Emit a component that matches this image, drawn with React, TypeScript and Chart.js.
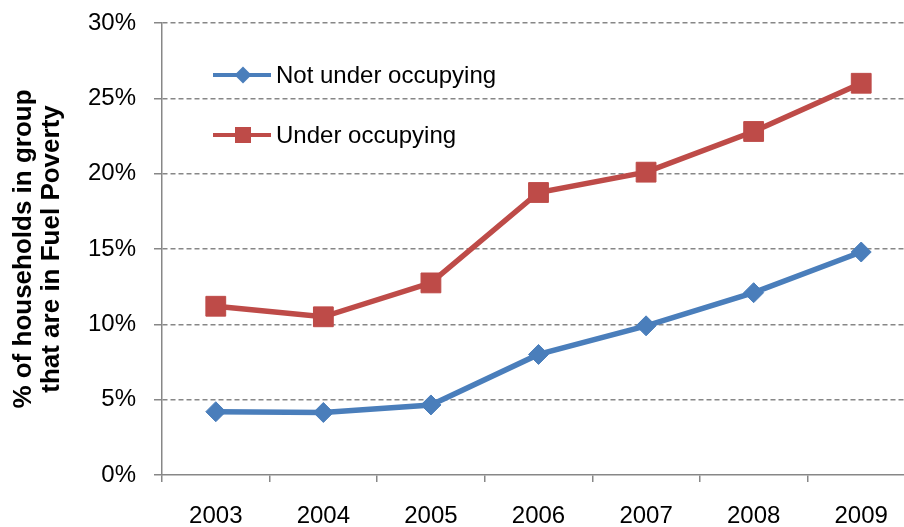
import React, { useEffect, useRef } from 'react';
import { Chart, registerables } from 'chart.js';

Chart.register(...registerables);

const years = ['2003', '2004', '2005', '2006', '2007', '2008', '2009'];
const notUnderOccupying = [4.2, 4.15, 4.65, 8.0, 9.9, 12.1, 14.8];
const underOccupying = [11.2, 10.5, 12.75, 18.75, 20.1, 22.8, 26.0];
const yTickValues = [0, 5, 10, 15, 20, 25, 30];
const seriesNames = ['Not under occupying', 'Under occupying'];
const yTitle = ['% of households in group', 'that are in Fuel Poverty'];

const FONT = "'Liberation Sans', Arial, sans-serif";
const GRAY = '#878787';
const BLUE = '#4A7EBB';
const RED = '#BE4B48';

const insideLegend = {
  id: 'insideLegend',
  afterDatasetsDraw(chart: any) {
    const { ctx, chartArea } = chart;
    chart.data.datasets.forEach((ds: any, i: number) => {
      const y = chartArea.top + 52 + i * 60;
      const x0 = chartArea.left + 51;
      const x1 = chartArea.left + 109;
      const cx = (x0 + x1) / 2 + 1;
      ctx.save();
      ctx.strokeStyle = ds.borderColor;
      ctx.lineWidth = 4;
      ctx.beginPath();
      ctx.moveTo(x0, y);
      ctx.lineTo(x1, y);
      ctx.stroke();
      ctx.fillStyle = ds.borderColor;
      ctx.beginPath();
      if (ds.pointStyle === 'rectRot') {
        const r = 8.5;
        ctx.moveTo(cx - r, y);
        ctx.lineTo(cx, y - r);
        ctx.lineTo(cx + r, y);
        ctx.lineTo(cx, y + r);
        ctx.closePath();
      } else {
        const s = 8;
        ctx.rect(cx - s, y - s, 2 * s, 2 * s);
      }
      ctx.fill();
      ctx.fillStyle = '#000';
      ctx.font = `24px ${FONT}`;
      ctx.textBaseline = 'middle';
      ctx.textAlign = 'left';
      ctx.fillText(ds.label, x1 + 5, y + 1);
      ctx.restore();
    });
  },
};

export default function App() {
  const ref = useRef<HTMLCanvasElement | null>(null);

  useEffect(() => {
    if (!ref.current) return;
    const chart = new Chart(ref.current, {
      type: 'line',
      data: {
        labels: years,
        datasets: [
          {
            label: seriesNames[0],
            data: notUnderOccupying,
            borderColor: BLUE,
            backgroundColor: BLUE,
            borderWidth: 5.5,
            pointStyle: 'rectRot',
            pointRadius: 10,
            pointBorderWidth: 1,
            pointBackgroundColor: BLUE,
            pointBorderColor: BLUE,
            tension: 0,
          },
          {
            label: seriesNames[1],
            data: underOccupying,
            borderColor: RED,
            backgroundColor: RED,
            borderWidth: 5.5,
            pointStyle: 'rect',
            pointRadius: 14,
            pointBorderWidth: 1,
            pointBackgroundColor: RED,
            pointBorderColor: RED,
            tension: 0,
          },
        ],
      },
      options: {
        responsive: false,
        animation: false,
        events: [],
        layout: { padding: { left: 0, right: 11, top: 23, bottom: 0 } },
        plugins: {
          legend: { display: false },
          tooltip: { enabled: false },
        },
        scales: {
          x: {
            type: 'category',
            offset: true,
            grid: {
              offset: true,
              drawOnChartArea: false,
              drawTicks: true,
              tickLength: 7,
              color: GRAY,
              lineWidth: 1.5,
            },
            border: { color: GRAY, width: 1.5 },
            ticks: {
              font: { family: FONT, size: 24 },
              color: '#000',
              padding: 20,
              maxRotation: 0,
              autoSkip: false,
            },
            afterFit: (s: any) => {
              s.height = 52;
              s.paddingLeft = 0;
              s.paddingRight = 0;
            },
          },
          y: {
            min: 0,
            max: 30,
            afterBuildTicks: (s: any) => {
              s.ticks = yTickValues.map((v) => ({ value: v }));
            },
            ticks: {
              callback: (v: any) => v + '%',
              font: { family: FONT, size: 24 },
              color: '#000',
              padding: 18,
            },
            grid: {
              color: (c: any) => (c.tick && c.tick.value === 0 ? 'rgba(0,0,0,0)' : GRAY),
              tickColor: GRAY,
              lineWidth: 1.5,
              tickWidth: 1.5,
              tickLength: 8,
              tickBorderDash: [],
            },
            border: { color: GRAY, width: 1.5, dash: [5, 3] },
            title: {
              display: true,
              text: yTitle,
              color: '#000',
              font: { family: FONT, size: 26, weight: 'bold', lineHeight: 1.08 },
              padding: { top: 9.5, bottom: 0 },
            },
            afterFit: (s: any) => {
              s.width = 162;
              s.paddingTop = 0;
              s.paddingBottom = 0;
            },
          },
        },
      },
      plugins: [insideLegend],
    } as any);
    return () => chart.destroy();
  }, []);

  return (
    <div
      style={{
        position: 'fixed',
        left: 0,
        top: 0,
        width: 904,
        height: 527,
        overflow: 'hidden',
        background: '#fff',
      }}
    >
      <canvas ref={ref} width={930} height={527} style={{ display: 'block' }} />
    </div>
  );
}
